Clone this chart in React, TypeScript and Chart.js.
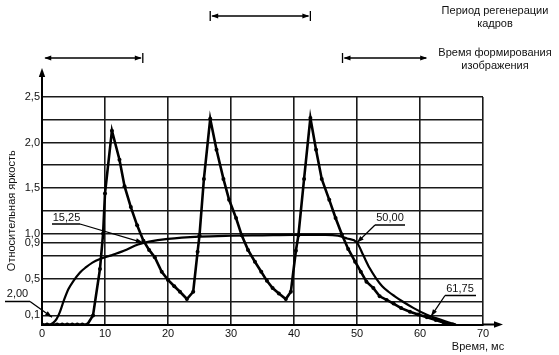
import React, { useEffect, useRef } from "react";
import { Chart, registerables } from "chart.js";

Chart.register(...registerables);

// Pulsed (dotted) luminance curve: time (ms) and relative luminance
const pulseTime = [0, 0.8, 1.6, 2.4, 3.2, 4.0, 4.8, 5.6, 6.4, 7.2, 8.1, 9.2, 9.7, 10.0, 11.1, 12.3, 13.1, 14.1, 15.1, 16.1, 17.0, 17.9, 19.0, 20.0, 21.0, 21.9, 23.0, 24.0, 24.7, 25.0, 25.7, 26.7, 27.7, 28.8, 29.7, 30.8, 31.7, 32.7, 33.8, 34.8, 35.7, 36.6, 37.6, 38.7, 39.5, 40.3, 40.7, 41.6, 42.6, 43.5, 44.4, 45.6, 46.6, 47.6, 48.6, 49.7, 50.6, 51.5, 52.6, 53.6, 54.7, 55.8, 57.0, 58.4, 59.7, 61.1, 62.5, 63.8, 65.2];
const pulseLevel = [0, 0, 0, 0, 0, 0, 0, 0, 0, 0, 0.1, 0.61, 1.0, 1.44, 2.13, 1.81, 1.52, 1.29, 1.09, 0.92, 0.82, 0.74, 0.58, 0.49, 0.42, 0.36, 0.28, 0.36, 0.8, 0.98, 1.6, 2.26, 1.92, 1.6, 1.37, 1.17, 0.98, 0.82, 0.69, 0.58, 0.48, 0.4, 0.34, 0.28, 0.36, 0.81, 0.98, 1.6, 2.27, 1.92, 1.6, 1.37, 1.17, 0.99, 0.83, 0.69, 0.58, 0.47, 0.4, 0.31, 0.27, 0.23, 0.18, 0.14, 0.11, 0.08, 0.05, 0.02, 0];

// Smooth (integrated) curve
const smoothTime = [1.5, 2.3, 2.8, 3.5, 4.2, 5.0, 6.0, 7.0, 8.0, 9.2, 11.0, 13.0, 15.25, 17.0, 20.0, 25.0, 30.0, 35.0, 40.0, 45.0, 47.0, 48.4, 50.0, 51.0, 52.0, 53.0, 54.0, 55.0, 56.0, 57.3, 59.0, 61.0, 62.5, 64.0, 65.7];
const smoothLevel = [0, 0.06, 0.13, 0.27, 0.39, 0.48, 0.57, 0.63, 0.68, 0.72, 0.76, 0.81, 0.88, 0.91, 0.94, 0.965, 0.975, 0.98, 0.985, 0.985, 0.975, 0.945, 0.9, 0.76, 0.62, 0.51, 0.42, 0.36, 0.31, 0.25, 0.18, 0.11, 0.07, 0.035, 0];

// Y axis ticks (grid lines) and their labels
const yTickValues = [0.1, 0.25, 0.5, 0.75, 0.9, 1.0, 1.25, 1.5, 1.75, 2.0, 2.25, 2.5];
const yTickLabels = ["0,1", "", "0,5", "", "0,9", "1,0", "", "1,5", "", "2,0", "", "2,5"];

// Leader-line callouts
const calloutLabels = ["2,00", "15,25", "50,00", "61,75"];
const calloutTime = [1.6, 16.0, 50.0, 61.75];
const calloutLevel = [0.08, 0.9, 0.9, 0.09];

// Dimension arrows above the chart (in ms)
const spanStart = [26.7, 0.2, 47.7];
const spanEnd = [42.6, 16.0, 61.3];

const FONT = "'Liberation Sans', Arial, sans-serif";

function head(ctx: CanvasRenderingContext2D, x: number, y: number, angle: number, len = 7, half = 2.6) {
  ctx.save();
  ctx.translate(x, y);
  ctx.rotate(angle);
  ctx.beginPath();
  ctx.moveTo(0, 0);
  ctx.lineTo(-len, -half);
  ctx.lineTo(-len, half);
  ctx.closePath();
  ctx.fill();
  ctx.restore();
}

const decorPlugin = {
  id: "decor",
  afterDraw(chart: any) {
    const ctx: CanvasRenderingContext2D = chart.ctx;
    const xs = chart.scales.x;
    const ys = chart.scales.y;
    const area = chart.chartArea;
    ctx.save();
    ctx.strokeStyle = "#000";
    ctx.fillStyle = "#000";
    ctx.lineCap = "butt";

    // axis arrows
    ctx.lineWidth = 2;
    ctx.beginPath();
    ctx.moveTo(area.left, area.top);
    ctx.lineTo(area.left, 74);
    ctx.stroke();
    head(ctx, area.left, 68, -Math.PI / 2, 9, 3.2);
    ctx.beginPath();
    ctx.moveTo(area.right, area.bottom);
    ctx.lineTo(497, area.bottom);
    ctx.stroke();
    head(ctx, 503, area.bottom, 0, 9, 3.2);

    // dimension arrows
    const rowsY = [16, 58, 58];
    const barLeft = [true, false, true];
    const barRight = [true, true, false];
    ctx.lineWidth = 1.3;
    for (let i = 0; i < spanStart.length; i++) {
      const x1 = xs.getPixelForValue(spanStart[i]);
      const x2 = xs.getPixelForValue(spanEnd[i]);
      const y = rowsY[i];
      ctx.beginPath();
      ctx.moveTo(x1 + 2, y);
      ctx.lineTo(x2 - 2, y);
      ctx.stroke();
      head(ctx, x1 + 1, y, Math.PI, 7, 2.4);
      head(ctx, x2 - 1, y, 0, 7, 2.4);
      if (barLeft[i]) {
        ctx.beginPath();
        ctx.moveTo(x1, y - 5);
        ctx.lineTo(x1, y + 5);
        ctx.stroke();
      }
      if (barRight[i]) {
        ctx.beginPath();
        ctx.moveTo(x2, y - 5);
        ctx.lineTo(x2, y + 5);
        ctx.stroke();
      }
    }

    // text blocks top-right
    ctx.font = "11px " + FONT;
    ctx.textAlign = "center";
    ctx.textBaseline = "middle";
    ctx.fillStyle = "#111";
    ctx.fillText("Период регенерации", 495, 11);
    ctx.fillText("кадров", 495, 24);
    ctx.fillText("Время формирования", 495, 53);
    ctx.fillText("изображения", 495, 66);

    // x axis title
    ctx.fillText("Время, мс", 478, 347);

    // callouts
    const textX = [17.5, 66.5, 390, 460];
    const textY = [294, 217.5, 218, 288.5];
    const lineL = [5, 52, 375, 445];
    const lineR = [30, 80, 405, 476];
    const lineY = [301.5, 224, 225, 295.5];
    const anchorLeft = [false, false, true, true];
    ctx.lineWidth = 1.3;
    ctx.strokeStyle = "#000";
    ctx.fillStyle = "#000";
    for (let i = 0; i < calloutLabels.length; i++) {
      ctx.fillStyle = "#111";
      ctx.fillText(calloutLabels[i], textX[i], textY[i]);
      ctx.fillStyle = "#000";
      ctx.beginPath();
      ctx.moveTo(lineL[i], lineY[i]);
      ctx.lineTo(lineR[i], lineY[i]);
      const sx = anchorLeft[i] ? lineL[i] : lineR[i];
      const tx = xs.getPixelForValue(calloutTime[i]);
      const ty = ys.getPixelForValue(calloutLevel[i]);
      ctx.moveTo(sx, lineY[i]);
      ctx.lineTo(tx, ty);
      ctx.stroke();
      head(ctx, tx, ty, Math.atan2(ty - lineY[i], tx - sx), 7, 2.4);
    }
    ctx.restore();
  },
};

export default function App() {
  const ref = useRef<HTMLCanvasElement | null>(null);
  useEffect(() => {
    document.body.style.margin = "0";
    if (!ref.current) return;
    Chart.defaults.font.family = FONT;
    const chart = new Chart(ref.current, {
      type: "line",
      data: {
        datasets: [
          {
            label: "pulse",
            data: pulseTime.map((t, i) => ({ x: t, y: pulseLevel[i] })),
            borderColor: "#000",
            backgroundColor: "#000",
            borderWidth: 2.6,
            pointRadius: 2,
            pointBackgroundColor: "#000",
            pointBorderWidth: 0,
            tension: 0,
          },
          {
            label: "smooth",
            data: smoothTime.map((t, i) => ({ x: t, y: smoothLevel[i] })),
            borderColor: "#000",
            borderWidth: 2.2,
            pointRadius: 0,
            cubicInterpolationMode: "monotone",
          },
        ],
      },
      options: {
        responsive: false,
        animation: false,
        events: [],
        layout: { padding: { top: 97, right: 76, left: 0, bottom: 0 } },
        plugins: { legend: { display: false }, tooltip: { enabled: false } },
        scales: {
          x: {
            type: "linear",
            min: 0,
            max: 70,
            ticks: {
              stepSize: 10,
              color: "#111",
              font: { size: 11, family: FONT },
              padding: 3,
              maxRotation: 0,
            },
            grid: { color: "#1a1a1a", lineWidth: 1.6, drawTicks: false },
            border: { color: "#000", width: 2 },
            afterFit: (s: any) => {
              s.height = 30.5;
            },
          },
          y: {
            type: "linear",
            min: 0,
            max: 2.5,
            afterBuildTicks: (s: any) => {
              s.ticks = yTickValues.map((v) => ({ value: v }));
            },
            ticks: {
              autoSkip: false,
              color: "#111",
              font: { size: 11, family: FONT },
              padding: 2,
              callback: (_v: any, i: number) => yTickLabels[i],
            },
            grid: { color: "#1a1a1a", lineWidth: 1.6, drawTicks: false },
            border: { color: "#000", width: 2 },
            title: {
              display: true,
              text: "Относительная яркость",
              color: "#111",
              font: { size: 11, family: FONT },
              padding: { top: 5, bottom: 0 },
            },
            afterFit: (s: any) => {
              s.width = 42;
            },
          },
        },
      },
      plugins: [decorPlugin],
    } as any);
    return () => chart.destroy();
  }, []);
  return (
    <div style={{ width: 559, height: 355 }}>
      <canvas ref={ref} width={559} height={355} />
    </div>
  );
}
